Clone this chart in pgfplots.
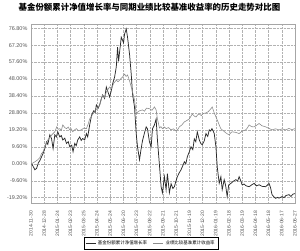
\documentclass[border=0pt]{standalone}
\usepackage{pgfplots}
\pgfplotsset{compat=1.18}
\usepackage{fontspec}
\setmainfont{Liberation Sans}
\newfontfamily\cjk{Noto Sans CJK SC}
\definecolor{fundc}{HTML}{2B2B2B}
\definecolor{benchc}{HTML}{8C8C8C}
\definecolor{labc}{HTML}{555555}
\begin{document}
\begin{tikzpicture}
\begin{axis}[
  at={(0,0)}, anchor=south west,
  scale only axis, width=265bp, height=180bp,
  xmin=31, xmax=296, ymin=-22.6, ymax=79,
  axis line style={color=gray!70, line width=0.5pt},
  tick style={draw=none},
  grid=major,
  grid style={densely dotted, color=gray!60, line width=0.4pt},
  ytick={-19.2,-9.6,0,9.6,19.2,28.8,38.4,48,57.6,67.2,76.8},
  yticklabel={\pgfmathprintnumber[fixed,fixed zerofill,precision=2]{\tick}\%},
  yticklabel style={font=\fontsize{5.5}{6}\selectfont, color=labc},
  /pgf/number format/assume math mode=true,
  xtick={31,44.25,57.5,70.75,84,97.25,110.5,123.75,137,150.25,163.5,176.75,190,203.25,216.5,229.75,243,256.25,269.5,282.75,296},
  xticklabels={2014-11-30,2014-12-28,2015-01-24,2015-02-23,2015-03-25,2015-04-24,2015-05-24,2015-06-20,2015-07-23,2015-08-22,2015-09-21,2015-10-21,2015-11-19,2015-12-20,2016-01-19,2016-02-18,2016-03-19,2016-04-18,2016-05-18,2016-06-17,2016-06-27},
  xticklabel style={font=\fontsize{5}{6}\selectfont, color=labc, yshift=-4bp, rotate=90, anchor=east},
  title={\cjk\bfseries 基金份额累计净值增长率与同期业绩比较基准收益率的历史走势对比图},
  title style={at={(0.449,1)}, anchor=center, yshift=11bp, font=\fontsize{8.5}{9}\selectfont},
  legend style={at={(0.455,-0.222)}, anchor=center, draw=black, line width=0.4pt,
    font=\cjk\fontsize{4.5}{5}\selectfont, inner sep=1.2pt, row sep=0pt,
    /tikz/every even column/.append style={column sep=4pt}},
  legend columns=2,
  legend image code/.code={\draw[#1] (0cm,0cm) -- (0.35cm,0cm);},
]
\addplot[color=fundc, line width=0.75pt] coordinates {
(31.7,0.0)(33,-1.2)(35,-3.4)(36.7,-2.65)(38.5,0.5)(40,1.8)(41.7,3.95)(43,5.5)(45,8.64)(46.7,12.4)(48,11.0)(50,16.4)(51.7,14.3)(53.3,8.6)(55,16.4)(56.5,15.2)(58,18.1)(60,15.2)(61.5,16.0)(63,13.5)(65,14.5)(66.7,11.5)(68.5,12.5)(70,9.6)(72,10.5)(73.3,6.8)(75,11.5)(76.5,10.2)(78,13.5)(80,15.2)(81.5,13.2)(83,14.3)(85,13.5)(86.7,17.1)(88,15.2)(90,22.0)(92,27.7)(94,30.0)(95.5,29.0)(96.7,33.3)(98.5,31.5)(100,33.3)(101.5,36.5)(103,39.0)(105,37.0)(106.7,43.5)(108.5,40.5)(110,37.8)(111.5,41.0)(113,45.2)(115,49.1)(116.7,54.8)(118,66.1)(119,58.0)(120,63.2)(121.7,71.7)(123,70.0)(124,68.5)(125,73.4)(126.7,76.4)(128,71.7)(130,62.1)(131.7,50.8)(133,39.5)(135,32.2)(136.7,17.1)(138,9.6)(140,2.3)(141.5,8.0)(143,13.0)(145,17.5)(146.7,20.9)(148,19.8)(150,12.4)(151.7,9.6)(153,19.8)(155,22.0)(156.7,25.4)(158,13.5)(160,-0.6)(161.7,-13.0)(163,-16.4)(165,-7.3)(166.7,-14.7)(168,-5.6)(170,-16.4)(171.7,-11.3)(173.5,-14.0)(175,-13.0)(176.5,-10.0)(178,-7.3)(180,-5.0)(181.7,-3.4)(183.5,-1.0)(185,1.1)(186.5,0.0)(188,3.95)(190,6.8)(191.7,9.6)(193.5,8.0)(195,14.1)(196.5,12.5)(198,18.1)(200,13.5)(201.5,11.5)(203,10.7)(205,13.0)(206.7,17.1)(208.5,15.5)(210,19.2)(211.5,18.5)(212.7,19.9)(214,18.5)(215,17.1)(216.7,9.6)(218,-1.7)(220,-11.1)(221.7,-7.3)(223,-14.7)(225,-9.0)(226.5,-12.5)(228,-18.6)(229.5,-12.0)(231.7,-11.1)(234,-10.0)(236.7,-9.0)(238.5,-9.8)(240,-7.3)(241.5,-9.5)(243,-11.9)(245,-11.5)(247,-12.5)(250,-13.0)(252.5,-12.0)(255,-11.1)(257.5,-12.5)(260,-11.9)(263,-12.8)(266.7,-13.0)(268.5,-12.0)(270,-11.1)(271.5,-13.5)(273,-17.5)(275,-18.8)(276.7,-19.6)(278.5,-19.0)(280,-19.5)(283,-18.6)(285,-19.2)(287,-18.0)(290,-17.5)(292,-18.5)(294,-17.2)(296,-16.9)
};
\addlegendentry{基金份额累计净值增长率}
\addplot[color=benchc, line width=0.6pt] coordinates {
(31.7,0.0)(35,1.1)(38,2.3)(40,3.5)(41.7,5.8)(43.5,7.0)(45,9.6)(48,13.5)(50,14.8)(52,16.4)(55,18.1)(57,20.9)(58.5,19.5)(60,19.9)(61.5,18.8)(63,22.0)(65,20.5)(66.7,19.9)(68.5,20.8)(70,19.2)(71.5,19.8)(73,18.1)(75,19.3)(76.7,19.9)(78.5,18.7)(81.7,19.2)(84,20.2)(86.7,19.9)(88.5,22.5)(90,25.4)(92.5,27.5)(95,30.0)(97.5,31.2)(100,33.3)(103,39.0)(105,37.5)(107,41.0)(110,43.5)(112,42.5)(114,45.5)(116.7,47.4)(118.5,46.5)(120,47.4)(121.5,48.3)(123,49.1)(125,50.8)(126.5,49.5)(128,50.3)(130,47.0)(131.7,43.5)(133.5,39.5)(135,36.1)(136.7,28.4)(138.5,29.5)(140,30.0)(143,30.5)(145,29.8)(147,31.5)(150,31.2)(152.5,30.3)(155,32.2)(156.7,30.5)(158,25.4)(160,20.3)(161.5,21.0)(163,19.9)(165,20.8)(166.7,19.9)(169,20.5)(171.7,19.2)(174,19.8)(176.7,18.6)(178.5,19.5)(180,20.9)(182.5,22.0)(185,23.7)(187.5,24.5)(190,25.4)(193,28.2)(195,27.0)(196.7,26.5)(198.5,27.8)(200,28.2)(202,27.3)(204,28.5)(206.7,28.8)(209,29.5)(211.7,31.2)(213,32.2)(215,28.8)(217.5,25.5)(220,22.0)(221.5,20.0)(223,19.2)(225,18.3)(226.7,17.5)(228.5,16.8)(230,16.4)(231.5,17.5)(233,18.1)(236.5,17.8)(240,17.1)(243,18.5)(246.7,19.2)(248.5,20.5)(250,22.0)(252.5,21.0)(255,20.9)(257.5,21.8)(260,22.8)(263,21.5)(266.7,20.9)(270,20.0)(273,19.2)(276.5,19.8)(280,19.2)(283,19.7)(286.7,19.2)(290,20.0)(293,19.3)(296,19.9)
};
\addlegendentry{业绩比较基准累计收益率}
\end{axis}
\path[use as bounding box] (-31bp,-47bp) rectangle (269bp,197bp);
\end{tikzpicture}
\end{document}
